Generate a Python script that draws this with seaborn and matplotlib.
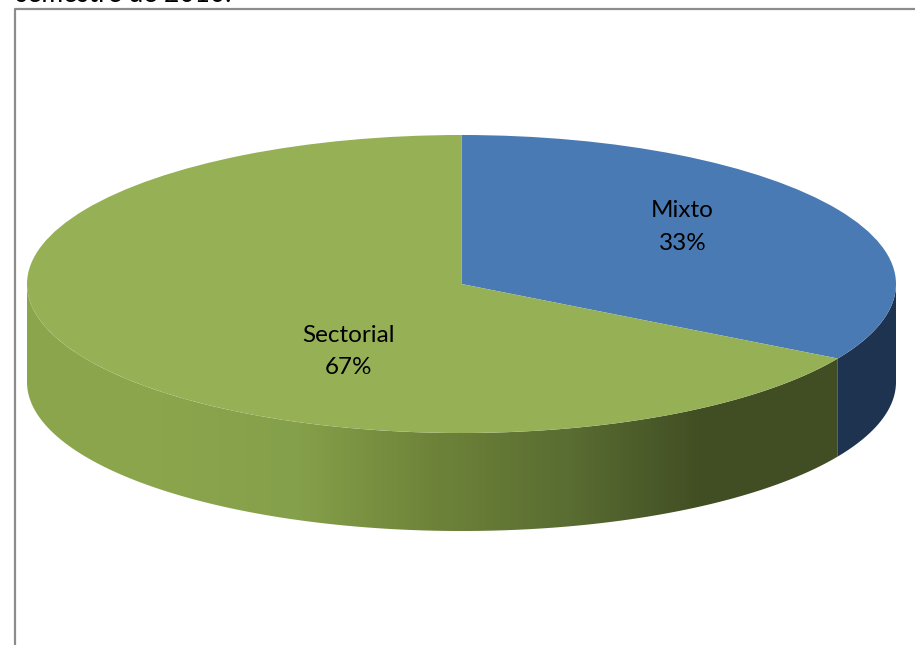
import numpy as np
import seaborn as sns
import matplotlib
matplotlib.use("Agg")
import matplotlib.pyplot as plt
from matplotlib.patches import Polygon

labels = ["Mixto", "Sectorial"]
values = [1, 2]
heading = "semestre de 2010."

top_colors = ["#4a7ab3", "#96b055"]
blue_side = "#1e3350"
green_side = ["#8aa64c", "#8aa54c", "#85a04a", "#6e8339", "#5a6d32", "#414e23", "#414d22"]

sns.set_theme(style="white")
plt.rcParams["font.family"] = ["Lato", "DejaVu Sans"]

W, H = 915, 645
CX, CY, RX, RY, DEPTH = 461.5, 284, 434.5, 149, 98

fig = plt.figure(figsize=(W / 100, H / 100), dpi=100)
ax = fig.add_axes([0, 0, 1, 1])

# pie first, then stretch it flat by dropping the equal aspect
wedges, _ = ax.pie(values, colors=top_colors, startangle=90, counterclock=False, radius=1,
                   wedgeprops={"edgecolor": "none", "linewidth": 0})
for w in wedges:
    w.set_zorder(3)

depth = DEPTH / RY
split = np.pi / 2 - 2 * np.pi * values[0] / sum(values)


def side_wall(a0, a1):
    t = np.linspace(a0, a1, 200)
    x, y = np.cos(t), np.sin(t)
    return np.r_[np.c_[x, y], np.c_[x[::-1], y[::-1] - depth]]


# side walls, front half of the cylinder only
ax.add_patch(Polygon(side_wall(0, split), closed=True, fc=blue_side, ec="none", zorder=1))

wall = Polygon(side_wall(split, -np.pi), closed=True, fc="none", ec="none", zorder=1)
ax.add_patch(wall)
cmap = sns.blend_palette(green_side, n_colors=256, as_cmap=True)
grad = ax.imshow(np.linspace(0, 1, 256).reshape(1, -1), cmap=cmap, aspect="auto",
                 extent=[-1, np.cos(split), -1 - depth, 0], zorder=1)
grad.set_clip_path(wall)
ax.set_aspect("auto")
ax.set_xlim(-CX / RX, (W - CX) / RX)
ax.set_ylim((CY - H) / RY, CY / RY)

# labels sit at the middle of each slice
total = sum(values)
ax.text(0.509, 0.383, f"{labels[0]}\n{values[0] / total:.0%}", ha="center", va="center",
        fontsize=17.5, color="black", zorder=5, linespacing=1.67)
ax.text(-0.26, -0.455, f"{labels[1]}\n{values[1] / total:.0%}", ha="center", va="center",
        fontsize=17.5, color="black", zorder=5, linespacing=1.67)

# chart border, cut off by the page on the right and bottom
fig.add_artist(plt.Line2D([14.5 / W, 14.5 / W, 1], [0, 1 - 8.5 / H, 1 - 8.5 / H], color="#8c8c8c", lw=1.6))
fig.text(16 / W, 1 - 2.5 / H, heading, fontsize=19, color="black", va="baseline", ha="left")

ax.set_axis_off()
fig.savefig("out.png", dpi=100)
